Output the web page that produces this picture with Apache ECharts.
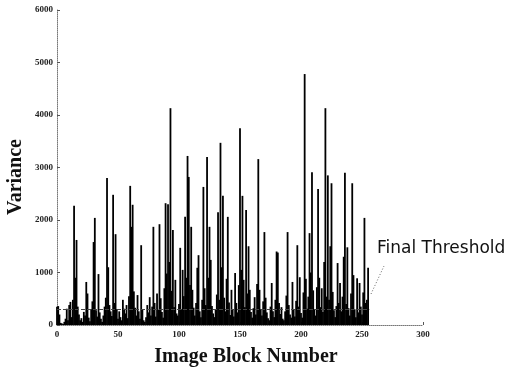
<!DOCTYPE html>
<html>
<head>
<meta charset="utf-8">
<script src="https://cdn.jsdelivr.net/npm/echarts@6/dist/echarts.min.js"></script>
<style>
html,body{margin:0;padding:0;background:#fff;}
#chart{width:507px;height:373px;}
</style>
</head>
<body>
<div id="chart"></div>
<script>
// Variance of each image block (blocks 0..255)
var variance = [
350,360,200,40,30,20,60,120,310,90,
380,440,150,480,2270,900,1620,350,200,90,
130,60,250,180,820,600,140,70,300,450,
1580,2040,280,160,970,240,120,60,180,350,
520,2800,1100,380,260,170,2480,420,1730,300,
120,260,150,90,480,310,220,380,130,550,
2650,1870,2290,640,330,180,570,260,120,1520,
300,90,60,150,380,240,530,180,350,1870,
420,160,600,290,1920,510,250,140,700,2320,
980,2300,1200,4130,650,1810,340,860,220,180,
400,1470,300,1050,550,2060,900,3220,2820,760,
1870,670,330,180,420,1090,1330,260,150,480,
2630,700,380,3200,900,1870,1240,360,220,150,
300,580,2150,480,3470,1100,2460,520,260,880,
2060,430,190,670,300,160,990,420,240,760,
3750,1050,2460,860,340,2190,600,1500,670,250,
140,320,530,200,780,3160,670,300,180,450,
1770,520,240,130,90,350,800,260,150,480,
1400,1380,420,210,340,120,90,260,560,1770,
380,200,140,820,300,160,460,1520,350,910,
230,140,620,4780,880,310,540,1750,1000,2910,
660,300,180,720,2590,900,340,700,250,1200,
4130,540,2850,480,1500,2700,630,280,150,360,
1180,420,800,260,540,1300,2900,400,1480,320,
180,600,2700,950,300,150,890,240,800,350,
200,620,2040,420,480,1090
];
var xTicks = [0, 50, 100, 150, 200, 250, 300];
var yTicks = [0, 1000, 2000, 3000, 4000, 5000, 6000];
var thresholdValue = 300;
var xTitle = 'Image Block Number';
var yTitle = 'Variance';
var noteText = 'Final Threshold';

var barData = variance.map(function (v, i) { return [i, v]; });

var chart = echarts.init(document.getElementById('chart'), null, {renderer: 'canvas'});
var tickFont = {fontFamily: 'Liberation Serif', fontWeight: 'bold', fontSize: 9, color: '#222'};
var titleFont = 'bold 20px "Liberation Serif"';
chart.setOption({
  animation: false,
  backgroundColor: '#fff',
  grid: {left: 57, right: 84, top: 10, bottom: 48, containLabel: false, outerBoundsMode: 'none'},
  xAxis: {
    type: 'value', min: xTicks[0], max: xTicks[xTicks.length - 1], interval: 50,
    axisLine: {show: true, lineStyle: {color: '#777', type: 'dotted', width: 1}},
    axisTick: {show: true, inside: true, length: 3, lineStyle: {color: '#555'}},
    axisLabel: Object.assign({margin: 5, formatter: function (v) { return String(v); }}, tickFont),
    splitLine: {show: false}
  },
  yAxis: {
    type: 'value', min: yTicks[0], max: yTicks[yTicks.length - 1], interval: 1000,
    axisLine: {show: true, lineStyle: {color: '#777', type: 'dotted', width: 1}},
    axisTick: {show: true, inside: true, length: 3, lineStyle: {color: '#555'}},
    axisLabel: Object.assign({margin: 4, formatter: function (v) { return String(v); }}, tickFont),
    splitLine: {show: false}
  },
  series: [{
    type: 'bar',
    data: barData,
    barWidth: 1.8,
    itemStyle: {color: '#000'},
    markLine: {
      silent: true, symbol: 'none', label: {show: false},
      lineStyle: {color: '#444', type: 'dashed', width: 1},
      data: [[{coord: [0, thresholdValue]}, {coord: [variance.length, thresholdValue]}]]
    }
  }],
  graphic: [
    {type: 'text', x: 246, y: 357,
     style: {text: xTitle, font: titleFont, fill: '#111', textAlign: 'center', textVerticalAlign: 'middle'}},
    {type: 'text', x: 16, y: 177, rotation: Math.PI / 2,
     style: {text: yTitle, font: titleFont, fill: '#111', textAlign: 'center', textVerticalAlign: 'middle'}},
    {type: 'text', left: 377, top: 240,
     style: {text: noteText, font: '17px "DejaVu Sans"', fill: '#111'}},
    {type: 'line', shape: {x1: 371, y1: 294, x2: 384, y2: 266},
     style: {stroke: '#666', lineWidth: 1, lineDash: [1, 2]}}
  ]
});
</script>
</body>
</html>
